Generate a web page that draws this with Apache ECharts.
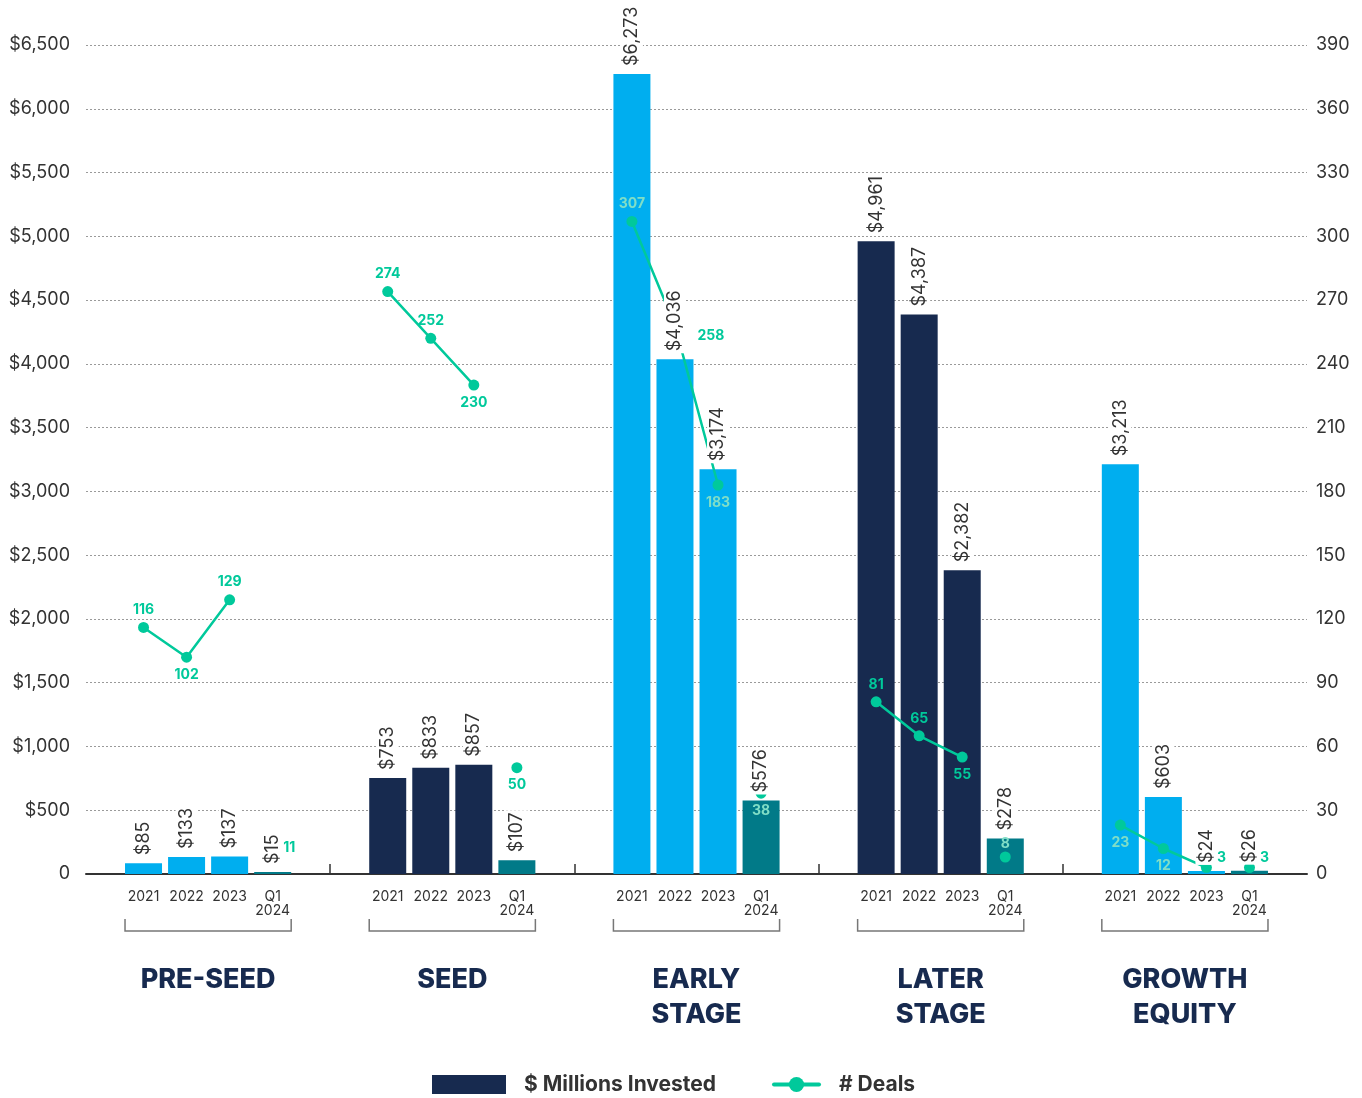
<!DOCTYPE html>
<html><head><meta charset="utf-8">
<script src="https://cdn.jsdelivr.net/npm/echarts@6/dist/echarts.min.js"></script>
<style>html,body{margin:0;padding:0;background:#fff}#chart{width:1362px;height:1098px}</style>
</head><body><div id="chart"></div>
<script>
// ---------- data ----------
const groups = ['PRE-SEED', 'SEED', 'EARLY\nSTAGE', 'LATER\nSTAGE', 'GROWTH\nEQUITY'];
const periods = ['2021', '2022', '2023', 'Q1\n2024'];
const invested2021 = [85, 753, 6273, 4961, 3213];
const invested2022 = [133, 833, 4036, 4387, 603];
const invested2023 = [137, 857, 3174, 2382, 24];
const investedQ12024 = [15, 107, 576, 278, 26];
const deals2021 = [116, 274, 307, 81, 23];
const deals2022 = [102, 252, 258, 65, 12];
const deals2023 = [129, 230, 183, 55, 3];
const dealsQ12024 = [11, 50, 38, 8, 3];
const investedAxisTicks = [0, 6500, 500];   // min, max, interval
const dealsAxisTicks = [0, 390, 30];

// ---------- styles / layout ----------
const FONT = 'Inter';
const C_LIGHT = '#00AEEF', C_NAVY = '#172A4F', C_TEAL = '#017A88', C_GREEN = '#00C99B', C_PALE = '#80DEC6';
const groupColors = [C_LIGHT, C_NAVY, C_LIGHT, C_NAVY, C_LIGHT];
const BAR_W = 37;
const BAR_STEP = 0.1763;   // spacing of bars inside one group (group = 1 unit)
// label placement per group / period for the deal points
const dealLabelPlace = [
  ['top', 'bottom', 'top', 'right'],
  ['top', 'top', 'bottom', 'bottom'],
  ['top', 'right', 'bottom', 'bottom'],
  ['top', 'top', 'bottom', 'top'],
  ['bottom', 'bottom', 'right', 'right']
];
const dealLabelPale = [
  [0, 0, 0, 0], [0, 0, 0, 0], [1, 0, 1, 1], [0, 0, 0, 1], [1, 1, 0, 0]
];
const dealLabelExtra = {
  '2,1': {distance: 17, offset: [0, 10]},
  '3,3': {offset: [0, 4]},
  '4,2': {offset: [0, -10]},
  '4,3': {offset: [0, -10]},
  '0,3': {offset: [0, -3]}
};

const investedByPeriod = [invested2021, invested2022, invested2023, investedQ12024];
const dealsByPeriod = [deals2021, deals2022, deals2023, dealsQ12024];
const pos = (g, p) => g + 0.5 + (p - 1.5) * BAR_STEP;

const barPositions = [];
const barData = [];
groups.forEach((_, g) => {
  periods.forEach((__, p) => {
    barPositions.push(pos(g, p));
    barData.push({
      value: [pos(g, p), investedByPeriod[p][g]],
      itemStyle: {color: p === 3 ? C_TEAL : groupColors[g]}
    });
  });
});

const lineData = [];
groups.forEach((_, g) => {
  periods.forEach((__, p) => {
    const extra = dealLabelExtra[g + ',' + p] || {};
    lineData.push({
      value: [pos(g, p), dealsByPeriod[p][g]],
      label: Object.assign({
        position: dealLabelPlace[g][p],
        color: dealLabelPale[g][p] ? C_PALE : C_GREEN
      }, extra)
    });
    if (p >= 2) lineData.push({value: [pos(g, p) + 0.01, '-']});  // break before/after Q1 point
  });
});

const bracketData = groups.map((_, g) => [pos(g, 0), pos(g, 3)]);

const labelOfPosition = v => {
  const g = Math.floor(v);
  const p = Math.round((v - g - 0.5) / BAR_STEP + 1.5);
  return periods[p] || '';
};

const chart = echarts.init(document.getElementById('chart'), null, {renderer: 'canvas'});
chart.setOption({
  backgroundColor: '#fff',
  animation: false,
  textStyle: {fontFamily: FONT},
  grid: {left: 86, right: 55, top: 45, bottom: 224, containLabel: false},
  legend: [
    {
      data: ['$ Millions Invested'], left: 432, top: 1074, padding: 0,
      itemWidth: 74, itemHeight: 19, icon: 'rect', selectedMode: false,
      textStyle: {fontFamily: FONT, fontSize: 21, fontWeight: 'bold', color: '#333', padding: [0, 0, 0, 13]}
    },
    {
      data: ['# Deals'], left: 772, top: 1074, padding: 0,
      itemWidth: 45, itemHeight: 19, selectedMode: false,
      lineStyle: {width: 4, cap: 'round'},
      textStyle: {fontFamily: FONT, fontSize: 21, fontWeight: 'bold', color: '#333', padding: [0, 0, 0, 15]}
    }
  ],
  xAxis: [
    {
      type: 'value', min: 0, max: groups.length, position: 'bottom',
      splitLine: {show: false},
      axisLine: {show: true, lineStyle: {color: '#333', width: 2}},
      axisTick: {show: true, inside: true, length: 10, customValues: [1, 2, 3, 4], lineStyle: {color: '#333', width: 1.5}},
      axisLabel: {
        customValues: barPositions, formatter: labelOfPosition,
        fontFamily: FONT, fontSize: 14, lineHeight: 14, margin: 16, color: '#333'
      }
    },
    {
      type: 'category', data: groups, position: 'bottom',
      axisLine: {show: false}, axisTick: {show: false}, splitLine: {show: false},
      axisLabel: {interval: 0, fontFamily: FONT, fontSize: 27, fontWeight: 800, color: C_NAVY, lineHeight: 35, margin: 88}
    }
  ],
  yAxis: [
    {
      type: 'value', min: investedAxisTicks[0], max: investedAxisTicks[1], interval: investedAxisTicks[2],
      position: 'left',
      axisLine: {show: false}, axisTick: {show: false},
      splitLine: {show: true, lineStyle: {color: '#9a9a9a', width: 1, type: [2, 2]}},
      axisLabel: {
        formatter: v => v === 0 ? '0' : '$' + v.toLocaleString('en-US'),
        fontFamily: FONT, fontSize: 18, color: '#333', margin: 16
      }
    },
    {
      type: 'value', min: dealsAxisTicks[0], max: dealsAxisTicks[1], interval: dealsAxisTicks[2],
      position: 'right',
      axisLine: {show: false}, axisTick: {show: false}, splitLine: {show: false},
      axisLabel: {fontFamily: FONT, fontSize: 18, color: '#333', margin: 9}
    }
  ],
  series: [
    {
      name: '$ Millions Invested', type: 'bar', xAxisIndex: 0, yAxisIndex: 0,
      barWidth: BAR_W, barGap: '-100%', z: 2, color: C_NAVY,
      data: barData
    },
    {
      name: '# Deals', type: 'line', xAxisIndex: 0, yAxisIndex: 1, z: 3,
      color: C_GREEN, symbol: 'circle', symbolSize: 11, showSymbol: true,
      lineStyle: {width: 2.5, color: C_GREEN}, itemStyle: {color: C_GREEN},
      connectNulls: false,
      label: {show: true, fontFamily: FONT, fontSize: 14, fontWeight: 'bold', distance: 5,
        formatter: p => p.value[1]},
      data: lineData
    },
    {
      name: 'invested labels', type: 'bar', xAxisIndex: 0, yAxisIndex: 0,
      barWidth: BAR_W, barGap: '-100%', z: 4, silent: true,
      itemStyle: {color: 'rgba(0,0,0,0)'},
      label: {
        show: true, position: 'top', rotate: 90, align: 'left', verticalAlign: 'middle', distance: 6,
        fontFamily: FONT, fontSize: 18, color: '#333',
        backgroundColor: '#fff', padding: [2, 2, 2, 2],
        formatter: p => '$' + p.value[1].toLocaleString('en-US')
      },
      data: barData.map(d => ({value: d.value}))
    },
    {
      name: 'brackets', type: 'custom', xAxisIndex: 0, yAxisIndex: 0, clip: false, silent: true,
      encode: {x: [0, 1]},
      renderItem: (params, api) => {
        const a = api.coord([api.value(0), 0]);
        const b = api.coord([api.value(1), 0]);
        const y = a[1] + 57;
        const x1 = a[0] - BAR_W / 2, x2 = b[0] + BAR_W / 2;
        return {
          type: 'polyline',
          shape: {points: [[x1, y - 12], [x1, y], [x2, y], [x2, y - 12]]},
          style: {stroke: '#777', lineWidth: 1.5, fill: null}
        };
      },
      data: bracketData
    }
  ]
});
</script></body></html>
